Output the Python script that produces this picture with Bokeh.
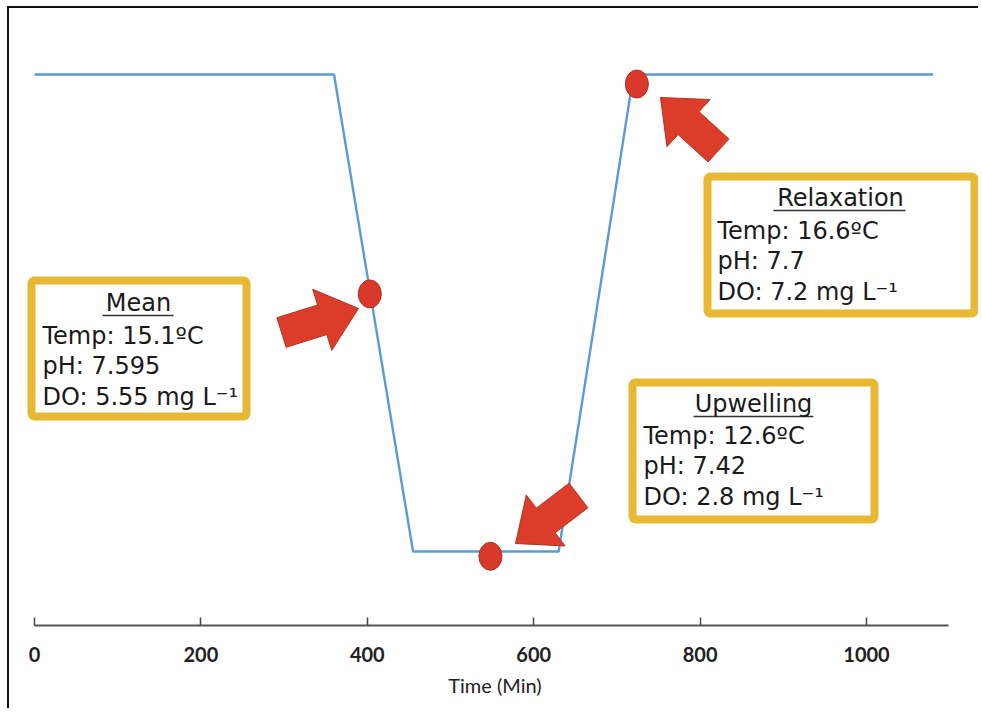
from bokeh.plotting import figure
from bokeh.models import Range1d, Label, BoxAnnotation, FixedTicker
from bokeh.embed import file_html
from bokeh.resources import INLINE
import numpy as np

# ---------------- data ----------------
time_min = [0, 360, 455, 630, 720, 1080]
level = [16.6, 16.6, 12.6, 12.6, 16.6, 16.6]

point_names = ["Mean", "Upwelling", "Relaxation"]
point_time = [403, 548, 724]
point_level = [14.76, 12.56, 16.52]

box_titles = ["Mean", "Relaxation", "Upwelling"]
box_lines = [
    ["Temp: 15.1\u00baC", "pH: 7.595", "DO: 5.55 mg L\u207b\u00b9"],
    ["Temp: 16.6\u00baC", "pH: 7.7", "DO: 7.2 mg L\u207b\u00b9"],
    ["Temp: 12.6\u00baC", "pH: 7.42", "DO: 2.8 mg L\u207b\u00b9"],
]

x_ticks = [0, 200, 400, 600, 800, 1000]
x_axis_end = 1098

# ---------------- layout (page pixels) ----------------
CX, CY = 9, 8              # canvas origin on the page (after margin + border)
W, H = 971, 702
FRAME_B = 625
BOTTOM = CY + H - FRAME_B
X0, PX_PER_MIN = 34.0, 0.832        # page x of t=0, px per minute
Y_LOW, PX_PER_UNIT = 551.0, 119.25  # page y of level 12.6, px per level unit

def px2x(px):
    return (px - X0) / PX_PER_MIN

def px2y(py):
    return 12.6 + (Y_LOW - py) / PX_PER_UNIT

x_start, x_end = px2x(CX), px2x(CX + W)
y_start, y_end = px2y(FRAME_B), px2y(CY)

GOLD = "#E8B832"
RED = "#DC3D2A"
BLUE = "#5B9BD5"
TXT = "#1a1a1a"

p = figure(width=W, height=H, output_backend="svg", toolbar_location=None,
           x_range=Range1d(x_start, x_end), y_range=Range1d(y_start, y_end),
           min_border_left=0, min_border_right=0, min_border_top=0,
           min_border_bottom=BOTTOM, y_axis_location=None)
p.styles = {"border-top": "2px solid #111", "border-left": "2px solid #111",
            "margin-left": "7px", "margin-top": "6px"}
p.outline_line_color = None
p.border_fill_color = "white"
p.xgrid.visible = False
p.ygrid.visible = False

ax = p.xaxis[0]
ax.ticker = FixedTicker(ticks=x_ticks)
ax.bounds = (0, x_axis_end)
ax.axis_line_color = "#555555"
ax.axis_line_width = 2
ax.major_tick_in = 8
ax.major_tick_out = 0
ax.major_tick_line_color = "#444444"
ax.major_tick_line_width = 1.5
ax.minor_tick_line_color = None
ax.major_label_text_font = "Lato"
ax.major_label_text_font_style = "bold"
ax.major_label_text_font_size = "20px"
ax.major_label_text_color = "#222222"
ax.major_label_standoff = 21
ax.axis_label = "Time (Min)"
ax.axis_label_text_font = "Lato"
ax.axis_label_text_font_style = "normal"
ax.axis_label_text_font_size = "20px"
ax.axis_label_text_color = "#222222"
ax.axis_label_standoff = 8

# main line
p.line(time_min, level, line_color=BLUE, line_width=2.4)

# arrows (pixel geometry -> data)
arrows = [((358, 308), (281, 332)), ((660, 97), (718, 150)), ((515, 543), (578, 495))]
HL, HW, SW = 38, 32, 15.5
xs, ys = [], []
for (tx, ty), (bx, by) in arrows:
    d = np.array([tx - bx, ty - by], float)
    L = np.linalg.norm(d)
    d /= L
    n = np.array([-d[1], d[0]])
    tip = np.array([tx, ty], float)
    base = tip - d * HL
    tail = tip - d * L
    pts = [tip, base + n * HW, base + n * SW, tail + n * SW,
           tail - n * SW, base - n * SW, base - n * HW]
    xs.append([px2x(q[0]) for q in pts])
    ys.append([px2y(q[1]) for q in pts])
p.patches(xs, ys, fill_color=RED, line_color="#B8321F", line_width=1)

# dots
p.ellipse(point_time, point_level, width=23, height=28, width_units="screen",
          height_units="screen", fill_color="#D9392A", line_color="#B02C1F", line_width=1)

# boxes: outer rect, text left, heading centre/y, underline span, first line y
boxes = [
    dict(rect=(27, 276, 250, 420), tl=42, hc=138, hy=302, ul=(102, 173, 315), ly=335),
    dict(rect=(703, 172, 978, 317), tl=717, hc=840, hy=197, ul=(773, 905, 210), ly=230),
    dict(rect=(628, 378, 878, 523), tl=643, hc=753, hy=403, ul=(693, 813, 416), ly=435),
]
BW = 8
LINE_H = 30.5
for b, title, lines in zip(boxes, box_titles, box_lines):
    l, t, r, bt = b["rect"]
    p.add_layout(BoxAnnotation(left=px2x(l + BW / 2), right=px2x(r - BW / 2),
                               top=px2y(t + BW / 2), bottom=px2y(bt - BW / 2),
                               line_color=GOLD, line_alpha=1.0, line_width=BW,
                               fill_color="white", fill_alpha=1.0, border_radius=3,
                               level="overlay"))
    u0, u1, uy = b["ul"]
    p.add_layout(BoxAnnotation(left=px2x(u0), right=px2x(u1), top=px2y(uy - 0.8),
                               bottom=px2y(uy + 0.8), line_color=None,
                               fill_color="#333333", fill_alpha=1.0, level="overlay"))
    p.add_layout(Label(x=px2x(b["hc"]), y=px2y(b["hy"]), text=title, text_font="DejaVu Sans",
                       text_font_size="24px", text_color=TXT, text_align="center",
                       text_baseline="middle", level="overlay"))
    for i, s in enumerate(lines):
        p.add_layout(Label(x=px2x(b["tl"]), y=px2y(b["ly"] + i * LINE_H), text=s,
                           text_font="DejaVu Sans", text_font_size="24px", text_color=TXT,
                           text_align="left", text_baseline="middle", level="overlay"))

open("out.html", "w").write(file_html(p, INLINE))
